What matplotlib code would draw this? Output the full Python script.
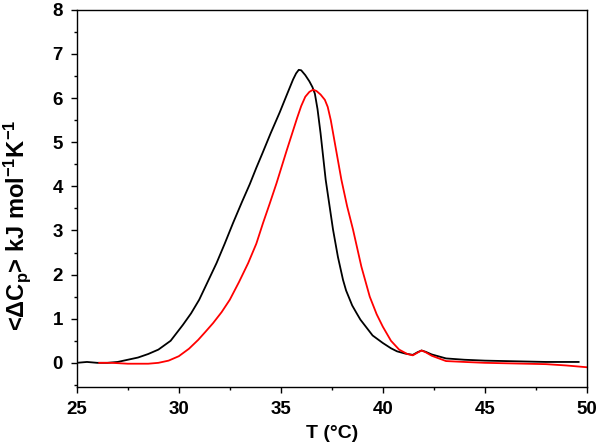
import numpy as np
import matplotlib.pyplot as plt
from matplotlib.ticker import MultipleLocator

plt.rcParams['font.family'] = ['Liberation Sans', 'DejaVu Sans']
plt.rcParams['mathtext.fontset'] = 'custom'
plt.rcParams['mathtext.rm'] = 'Liberation Sans:bold'
plt.rcParams['mathtext.it'] = 'Liberation Sans:bold'
plt.rcParams['mathtext.bf'] = 'Liberation Sans:bold'
plt.rcParams['mathtext.default'] = 'regular'

# Black curve
t_black = [25.0, 25.5, 26.0, 26.5, 27.0, 27.5, 28.0, 28.5, 29.0, 29.6, 30.2, 30.6,
           31.0, 31.4, 31.85, 32.25, 32.66, 33.1, 33.48, 33.8, 34.1, 34.5, 34.95,
           35.3, 35.6, 35.75, 35.88, 36.0, 36.2, 36.4, 36.55, 36.67, 36.8, 36.95,
           37.2, 37.56, 37.8, 38.05, 38.2, 38.5, 38.71, 38.9, 39.2, 39.5, 40.0,
           40.4, 40.7, 41.1, 41.47, 41.7, 41.9, 42.1, 42.4, 43.1, 44.0, 45.0,
           46.0, 47.0, 48.0, 49.0, 49.6]
cp_black = [0.0, 0.02, 0.0, 0.0, 0.02, 0.07, 0.12, 0.2, 0.3, 0.5, 0.86, 1.12,
            1.43, 1.82, 2.26, 2.7, 3.17, 3.65, 4.05, 4.42, 4.75, 5.2, 5.68,
            6.08, 6.42, 6.56, 6.64, 6.63, 6.52, 6.38, 6.25, 6.1, 5.75, 5.2,
            4.15, 3.02, 2.4, 1.88, 1.64, 1.3, 1.13, 0.98, 0.8, 0.62, 0.45,
            0.33, 0.26, 0.21, 0.18, 0.24, 0.28, 0.25, 0.19, 0.1, 0.07, 0.05,
            0.04, 0.03, 0.02, 0.02, 0.02]

# Red curve
t_red = [26.1, 26.7, 27.5, 28.5, 29.0, 29.5, 30.0, 30.5, 30.95, 31.3, 31.68, 32.1,
         32.5, 32.95, 33.4, 33.8, 34.13, 34.45, 34.79, 35.28, 35.8, 36.0, 36.2,
         36.4, 36.58, 36.75, 36.95, 37.16, 37.3, 37.45, 37.7, 37.97, 38.25,
         38.54, 38.95, 39.36, 39.7, 40.0, 40.4, 40.8, 41.2, 41.47, 41.7, 41.9,
         42.1, 42.4, 43.1, 44.0, 45.0, 46.0, 47.0, 48.0, 49.0, 50.0]
cp_red = [0.0, 0.0, -0.02, -0.02, 0.0, 0.05, 0.15, 0.32, 0.52, 0.7, 0.9, 1.15,
          1.43, 1.83, 2.26, 2.7, 3.17, 3.6, 4.07, 4.8, 5.55, 5.82, 6.03,
          6.14, 6.19, 6.16, 6.08, 5.96, 5.8, 5.5, 4.85, 4.15, 3.55,
          3.02, 2.18, 1.5, 1.1, 0.82, 0.5, 0.3, 0.2, 0.17, 0.23, 0.28,
          0.24, 0.16, 0.04, 0.02, 0.0, -0.01, -0.02, -0.03, -0.06, -0.1]

fig = plt.figure(figsize=(6, 4.47), dpi=100)
ax = fig.add_axes([0.128, 0.134, 0.85, 0.844])

ax.plot(t_black, cp_black, color='black', lw=1.3)
ax.plot(t_red, cp_red, color='red', lw=1.3)

ax.set_xlim(25, 50)
ax.set_ylim(-0.55, 8)
ax.xaxis.set_major_locator(MultipleLocator(5))
ax.xaxis.set_minor_locator(MultipleLocator(2.5))
ax.yaxis.set_major_locator(MultipleLocator(1))
ax.yaxis.set_minor_locator(MultipleLocator(0.5))
ax.tick_params(which='both', direction='out', top=False, right=False,
               width=1.0, labelsize=13.5)
ax.tick_params(which='major', length=4, pad=6)
ax.tick_params(which='minor', length=2.5)
for lbl in ax.get_xticklabels() + ax.get_yticklabels():
    lbl.set_fontweight('bold')
for s in ax.spines.values():
    s.set_linewidth(1.0)

ax.set_xlabel('T (°C)', fontsize=14, fontweight='bold', labelpad=5)
ax.set_ylabel('<ΔC$_p$> kJ mol$^{-1}$K$^{-1}$', fontsize=17,
              fontweight='bold')
ax.yaxis.set_label_coords(-0.085, 0.43)

fig.savefig('out.png', dpi=100)
